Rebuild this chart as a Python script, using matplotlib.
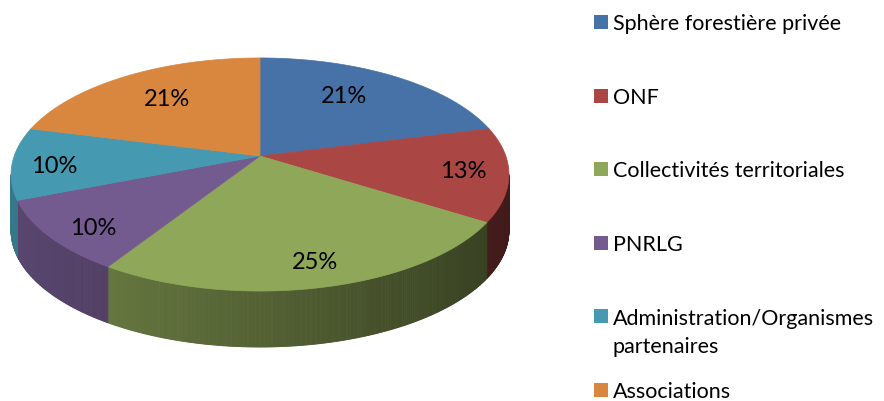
import numpy as np
import matplotlib
matplotlib.use("Agg")
import matplotlib.pyplot as plt
from matplotlib.patches import Polygon, Rectangle
from matplotlib.colors import to_rgb

# Shares by stakeholder group (percent)
categories = ["Sphère forestière privée", "ONF", "Collectivités territoriales",
              "PNRLG", "Administration/Organismes\npartenaires", "Associations"]
shares = [21, 13, 25, 10, 10, 21]
colors = ["#4672a8", "#aa4644", "#8fa758", "#735a8f", "#4599b0", "#d9863f"]

# Label placement inside each wedge (fraction of radius, angular nudge in degrees)
label_radius = [0.69, 0.82, 0.83, 0.84, 0.83, 0.69]
label_nudge = [-5, 0, -1, -3, -2, 1]

W, H = 884, 402
fig = plt.figure(figsize=(W / 100, H / 100), dpi=100)
ax = fig.add_axes([0, 0, 1, 1])
ax.set_xlim(0, W)
ax.set_ylim(H, 0)
ax.axis("off")

FONT = "Lato"

# Tilted-disc projection: apex, horizontal scale, vertical scale, perspective
cx, cy = 260.0, 157.0
a, b, k = 245.8, 113.6, 0.1588
depth = 56.0


def project(theta_deg, r=1.0):
    t = np.radians(theta_deg)
    u = r * np.sin(t)
    v = r * np.cos(t)
    den = 1 + k * v
    return cx + a * u / den, cy - b * v / den


total = float(sum(shares))
bounds = np.concatenate([[0], np.cumsum(shares)]) / total * 360.0

# Visible side wall runs between the leftmost and rightmost silhouette points
theta_right = np.degrees(np.arctan2(np.sqrt(1 - k * k), -k))   # ~99 deg
theta_left = 360 - theta_right                                   # ~261 deg


def shade(rgb, x):
    f = 0.78 - 0.40 * (x - 12) / 498.0
    f = min(max(f, 0.35), 0.85)
    return tuple(c * f for c in rgb)


for i in range(len(shares)):
    t0, t1 = bounds[i], bounds[i + 1]
    lo, hi = max(t0, theta_right), min(t1, theta_left)
    if hi <= lo:
        continue
    base = to_rgb(colors[i])
    ts = np.linspace(lo, hi, max(int((hi - lo) * 3), 2))
    for ta, tb in zip(ts[:-1], ts[1:]):
        xa, ya = project(ta)
        xb, yb = project(tb)
        col = shade(base, 0.5 * (xa + xb))
        ax.add_patch(Polygon([(xa, ya), (xb, yb), (xb, yb + depth), (xa, ya + depth)],
                             closed=True, facecolor=col, edgecolor=col, lw=0.6))

# Top faces
for i in range(len(shares)):
    t0, t1 = bounds[i], bounds[i + 1]
    ts = np.linspace(t0, t1, max(int((t1 - t0) * 2), 3))
    pts = [(cx, cy)] + [project(t) for t in ts]
    ax.add_patch(Polygon(pts, closed=True, facecolor=colors[i],
                         edgecolor=colors[i], lw=0.5))

# Percentage labels
for i, s in enumerate(shares):
    mid = 0.5 * (bounds[i] + bounds[i + 1]) + label_nudge[i]
    x, y = project(mid, label_radius[i])
    ax.text(x, y, f"{s}%", ha="center", va="center", fontsize=17,
            family=FONT, color="black")

# Legend
leg_x, leg_y0, leg_dy, line_h = 594, 23, 73.6, 28
for i, name in enumerate(categories):
    y = leg_y0 + i * leg_dy
    ax.add_patch(Rectangle((leg_x, y - 7), 14, 14, facecolor=colors[i], edgecolor="none"))
    for j, line in enumerate(name.split("\n")):
        ax.text(leg_x + 19, y + 7.3 + j * line_h, line, ha="left", va="baseline",
                fontsize=15.5, family=FONT, color="black")

fig.savefig("out.png", dpi=100)
